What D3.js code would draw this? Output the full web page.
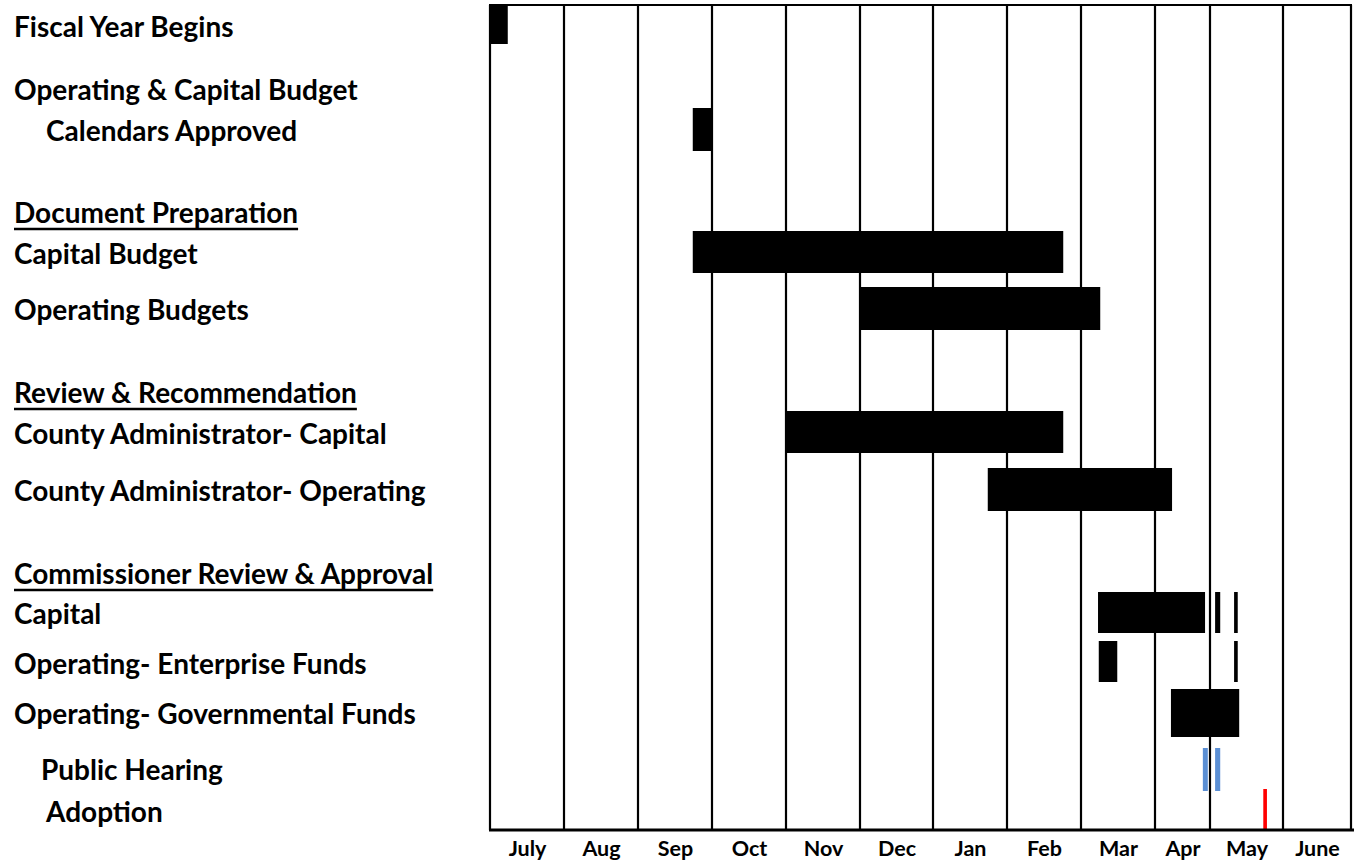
<!DOCTYPE html>
<html>
<head>
<meta charset="utf-8">
<script src="https://cdn.jsdelivr.net/npm/d3@7"></script>
<style>
  body { margin: 0; background: #fff; }
  text { font-family: Lato, "Open Sans", sans-serif; font-weight: 700; fill: #000; }
</style>
</head>
<body>
<div id="okvir"></div>
<script>

// 1. Podaci

const months = ["July", "Aug", "Sep", "Oct", "Nov", "Dec", "Jan", "Feb", "Mar", "Apr", "May", "June"]

const activities = [
  "Fiscal Year Begins",
  "Calendars Approved",
  "Capital Budget",
  "Operating Budgets",
  "County Administrator- Capital",
  "County Administrator- Operating",
  "Capital",
  "Operating- Enterprise Funds",
  "Operating- Governmental Funds",
  "Public Hearing",
  "Adoption",
]

// start / end in months from 1 July
const barActivity = [0, 1, 2, 3, 4, 5, 6, 6, 6, 7, 7, 8, 9, 9, 10]
const barStart = [0, 2.74, 2.74, 5.0, 4.0, 6.74, 8.23, 10.07, 10.33, 8.24, 10.33, 9.29, 9.87, 10.07, 10.73]
const barEnd   = [0.24, 3.0, 7.76, 8.26, 7.76, 9.31, 9.91, 10.14, 10.38, 8.49, 10.38, 10.40, 9.96, 10.14, 10.78]
const barKind  = ["task", "task", "task", "task", "task", "task", "task", "task", "task", "task", "task", "task", "hearing", "hearing", "adoption"]

const bars = barActivity.map((a, i) => ({
  activity: activities[a],
  start: barStart[i],
  end: barEnd[i],
  kind: barKind[i],
}))

// 2. Dimenzije

const dim = {
  sirina: 1354,
  visina: 861,
  left: 490,
  top: 5,
  bottom: 830,
}

// sirine mjesecnih stupaca (travanj je uzi)
const colWidths = [74, 74, 74, 74, 74, 73, 74, 74, 74, 55, 73, 68]
const colEdges = [dim.left]
colWidths.forEach(w => colEdges.push(colEdges[colEdges.length - 1] + w))
dim.right = colEdges[colEdges.length - 1]

const rowTops = [5, 108, 231, 287, 411, 468, 592, 641, 689, 748, 789]
const rowHeights = [39, 43, 42, 43, 42, 43, 41, 41, 48, 43, 41]

const labelLines = [
  { text: "Fiscal Year Begins", x: 14, y: 37 },
  { text: "Operating & Capital Budget", x: 14, y: 100 },
  { text: "Calendars Approved", x: 46, y: 141 },
  { text: "Document Preparation", x: 14, y: 223, head: true },
  { text: "Capital Budget", x: 14, y: 264 },
  { text: "Operating Budgets", x: 14, y: 320 },
  { text: "Review & Recommendation", x: 14, y: 403, head: true },
  { text: "County Administrator- Capital", x: 14, y: 444 },
  { text: "County Administrator- Operating", x: 14, y: 501 },
  { text: "Commissioner Review & Approval", x: 14, y: 584, head: true },
  { text: "Capital", x: 14, y: 624 },
  { text: "Operating- Enterprise Funds", x: 14, y: 674 },
  { text: "Operating- Governmental Funds", x: 14, y: 724 },
  { text: "Public Hearing", x: 41, y: 780 },
  { text: "Adoption", x: 46, y: 822 },
]

const boje = { task: "#000", hearing: "#5b8fd4", adoption: "#ff0000" }

// 3. Canvas

const okvir = d3.select("#okvir")
  .append("svg")
    .attr("width", dim.sirina)
    .attr("height", dim.visina)

// 4. Skale

const xSkala = d3.scaleLinear()
  .domain(d3.range(13))
  .range(colEdges)

const ySkala = d3.scaleOrdinal()
  .domain(activities)
  .range(rowTops)

const hSkala = d3.scaleOrdinal()
  .domain(activities)
  .range(rowHeights)

// 5. Mreza mjeseci

okvir.append("g")
  .selectAll("line")
  .data(d3.range(13))
  .join("line")
    .attr("x1", d => xSkala(d))
    .attr("x2", d => xSkala(d))
    .attr("y1", dim.top)
    .attr("y2", dim.bottom)
    .attr("stroke", "#000")
    .attr("stroke-width", 2.2)

okvir.append("line")
  .attr("x1", dim.left - 1)
  .attr("x2", dim.right + 1)
  .attr("y1", dim.top)
  .attr("y2", dim.top)
  .attr("stroke", "#000")
  .attr("stroke-width", 2.2)

// 6. Trake

okvir.append("g")
  .selectAll("rect")
  .data(bars)
  .join("rect")
    .attr("x", d => xSkala(d.start))
    .attr("width", d => xSkala(d.end) - xSkala(d.start))
    .attr("y", d => ySkala(d.activity))
    .attr("height", d => hSkala(d.activity))
    .attr("fill", d => boje[d.kind])

// 7. Os mjeseci

const xOs = okvir.append("g")
  .attr("transform", `translate(0, ${dim.bottom})`)
  .call(d3.axisBottom(xSkala)
    .tickValues(d3.range(12).map(i => i + 0.5))
    .tickFormat(d => months[Math.floor(d)])
    .tickSize(0)
    .tickPadding(11))

xOs.select(".domain")
  .attr("stroke", "#000")
  .attr("stroke-width", 3)
  .attr("d", `M${dim.left - 1},0H${dim.sirina}`)

xOs.selectAll(".tick text")
  .attr("dy", "0.71em")
  .style("font-family", "Lato, sans-serif")
  .style("font-weight", 700)
  .style("font-size", "21.5px")

// 8. Oznake redova

const oznake = okvir.append("g")

oznake.selectAll("text")
  .data(labelLines)
  .join("text")
    .attr("x", d => d.x)
    .attr("y", d => d.y)
    .style("font-size", "28px")
    .text(d => d.text)

oznake.selectAll("text").filter(d => d.head).each(function(d) {
  const w = this.getComputedTextLength()
  oznake.append("line")
    .attr("x1", d.x)
    .attr("x2", d.x + w)
    .attr("y1", d.y + 6)
    .attr("y2", d.y + 6)
    .attr("stroke", "#000")
    .attr("stroke-width", 2.5)
})

</script>
</body>
</html>
